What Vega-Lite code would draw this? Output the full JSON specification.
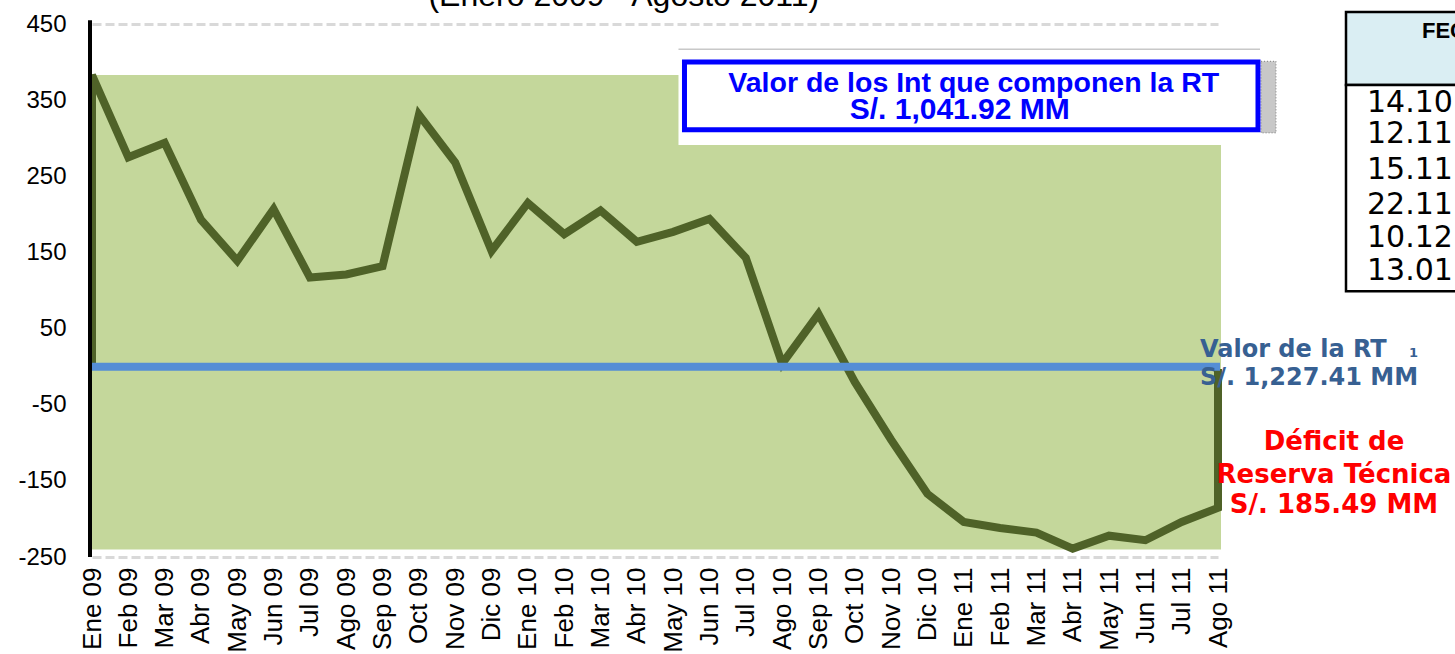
{
  "$schema": "https://vega.github.io/schema/vega-lite/v6.json",
  "autosize": {"type": "none"},
  "width": 1126,
  "height": 533,
  "padding": {"left": 92, "top": 24, "right": 237, "bottom": 97},
  "background": "#ffffff",
  "config": {"view": {"stroke": null}, "font": "Liberation Sans"},
  "encoding": {
    "x": {
      "field": "mes", "type": "ordinal",
      "scale": {"type": "point", "padding": 0, "domain": ["Ene 09","Feb 09","Mar 09","Abr 09","May 09","Jun 09","Jul 09","Ago 09","Sep 09","Oct 09","Nov 09","Dic 09","Ene 10","Feb 10","Mar 10","Abr 10","May 10","Jun 10","Jul 10","Ago 10","Sep 10","Oct 10","Nov 10","Dic 10","Ene 11","Feb 11","Mar 11","Abr 11","May 11","Jun 11","Jul 11","Ago 11"]},
      "axis": {"title": null, "domain": false, "ticks": false, "grid": false, "labelAngle": -90, "labelPadding": 10, "labelFontSize": 26, "labelColor": "#000000", "labelFont": "Liberation Sans"}
    },
    "y": {
      "field": "valor", "type": "quantitative",
      "scale": {"domain": [-250, 450], "nice": false, "zero": false},
      "axis": {"title": null, "values": [-250,-150,-50,50,150,250,350,450], "labelExpr": "datum.value < 0 ? '-' + abs(datum.value) : '' + datum.value", "domain": false, "ticks": false, "grid": true, "gridColor": "#D9D9D9", "gridDash": [9,4], "gridWidth": 3, "labelPadding": 26, "labelFontSize": 24, "labelColor": "#000000", "labelFont": "Liberation Sans"}
    }
  },
  "layer": [
    {
      "data": {"values": [{"mes": "Ene 09", "hasta": "Ago 11", "valor": 383, "valor2": -240}]},
      "mark": {"type": "rect", "color": "#C4D79B", "x2Offset": 3},
      "encoding": {"x2": {"field": "hasta"}, "y2": {"field": "valor2"}}
    },
    {
      "data": {"values": [
        {"i": 0, "mes": "Ene 09", "valor": 0},
        {"i": 1, "mes": "Ene 09", "valor": 383},
        {"i": 2, "mes": "Feb 09", "valor": 275},
        {"i": 3, "mes": "Mar 09", "valor": 294},
        {"i": 4, "mes": "Abr 09", "valor": 193},
        {"i": 5, "mes": "May 09", "valor": 139},
        {"i": 6, "mes": "Jun 09", "valor": 207},
        {"i": 7, "mes": "Jul 09", "valor": 117},
        {"i": 8, "mes": "Ago 09", "valor": 121},
        {"i": 9, "mes": "Sep 09", "valor": 132},
        {"i": 10, "mes": "Oct 09", "valor": 331},
        {"i": 11, "mes": "Nov 09", "valor": 268},
        {"i": 12, "mes": "Dic 09", "valor": 152},
        {"i": 13, "mes": "Ene 10", "valor": 215},
        {"i": 14, "mes": "Feb 10", "valor": 174},
        {"i": 15, "mes": "Mar 10", "valor": 205},
        {"i": 16, "mes": "Abr 10", "valor": 164},
        {"i": 17, "mes": "May 10", "valor": 177},
        {"i": 18, "mes": "Jun 10", "valor": 194},
        {"i": 19, "mes": "Jul 10", "valor": 143},
        {"i": 20, "mes": "Ago 10", "valor": 4},
        {"i": 21, "mes": "Sep 10", "valor": 69},
        {"i": 22, "mes": "Oct 10", "valor": -20},
        {"i": 23, "mes": "Nov 10", "valor": -96},
        {"i": 24, "mes": "Dic 10", "valor": -167},
        {"i": 25, "mes": "Ene 11", "valor": -204},
        {"i": 26, "mes": "Feb 11", "valor": -212},
        {"i": 27, "mes": "Mar 11", "valor": -218},
        {"i": 28, "mes": "Abr 11", "valor": -239},
        {"i": 29, "mes": "May 11", "valor": -222},
        {"i": 30, "mes": "Jun 11", "valor": -228},
        {"i": 31, "mes": "Jul 11", "valor": -204},
        {"i": 32, "mes": "Ago 11", "valor": -185.49},
        {"i": 33, "mes": "Ago 11", "valor": -3}
      ]},
      "mark": {"type": "line", "color": "#4F6228", "strokeWidth": 8},
      "encoding": {"order": {"field": "i", "type": "quantitative"}}
    },
    {
      "data": {"values": [{"mes": "Ene 09", "hasta": "Ago 11", "valor": 0}]},
      "mark": {"type": "rule", "color": "#558ED5", "strokeWidth": 8, "x2Offset": 2},
      "encoding": {"x2": {"field": "hasta"}}
    },
    {
      "data": {"values": [{"mes": "Ene 09", "valor": 455, "valor2": -250}]},
      "mark": {"type": "rule", "color": "#000000", "strokeWidth": 4, "xOffset": -2},
      "encoding": {"y2": {"field": "valor2"}}
    },
    {
      "data": {"values": [{"mes": "Abr 10", "etiqueta": "(Enero 2009 - Agosto 2011)", "valor": 474}]},
      "mark": {"type": "text", "fontSize": 32, "color": "#000000", "align": "center", "baseline": "alphabetic", "dx": -13},
      "encoding": {"text": {"field": "etiqueta"}}
    },
    {
      "data": {"values": [{"mes": "Jun 10", "hasta": "Ago 11", "valor": 418, "valor2": 291}]},
      "mark": {"type": "rect", "fill": "#ffffff", "xOffset": -31, "x2Offset": 62},
      "encoding": {"x2": {"field": "hasta"}, "y2": {"field": "valor2"}}
    },
    {
      "data": {"values": [{"mes": "Jun 10", "hasta": "Ago 11", "valor": 417}]},
      "mark": {"type": "rule", "color": "#C8C8C8", "strokeWidth": 1.5, "xOffset": -31, "x2Offset": 42},
      "encoding": {"x2": {"field": "hasta"}}
    },
    {
      "data": {"values": [{"mes": "Ago 11", "hasta": "Ago 11", "valor": 401, "valor2": 307}]},
      "mark": {"type": "rect", "fill": "#C8C8C8", "stroke": "#7F7F7F", "strokeWidth": 1, "strokeDash": [1, 2], "xOffset": 43, "x2Offset": 58},
      "encoding": {"x2": {"field": "hasta"}, "y2": {"field": "valor2"}}
    },
    {
      "data": {"values": [{"mes": "Jun 10", "hasta": "Ago 11", "valor": 400, "valor2": 311}]},
      "mark": {"type": "rect", "fill": "#ffffff", "stroke": "#0000FF", "strokeWidth": 5, "xOffset": -25, "x2Offset": 40},
      "encoding": {"x2": {"field": "hasta"}, "y2": {"field": "valor2"}}
    },
    {
      "data": {"values": [{"mes": "Ene 11", "etiqueta": "Valor de los Int que componen la RT", "valor": 372.5}]},
      "mark": {"type": "text", "fontSize": 28.5, "fontWeight": "bold", "color": "#0000FF", "align": "center", "baseline": "middle", "dx": 10},
      "encoding": {"text": {"field": "etiqueta"}}
    },
    {
      "data": {"values": [{"mes": "Ene 11", "etiqueta": "S/. 1,041.92 MM", "valor": 337}]},
      "mark": {"type": "text", "fontSize": 30, "fontWeight": "bold", "color": "#0000FF", "align": "center", "baseline": "middle", "dx": -4},
      "encoding": {"text": {"field": "etiqueta"}}
    },
    {
      "data": {"values": [
        {"mes": "Ago 11", "etiqueta": "Valor de la RT", "valor": 12.4},
        {"mes": "Ago 11", "etiqueta": "S/. 1,227.41 MM", "valor": -24.4}
      ]},
      "mark": {"type": "text", "font": "DejaVu Sans", "fontSize": 24, "fontWeight": "bold", "color": "#376092", "align": "left", "baseline": "alphabetic", "dx": -18},
      "encoding": {"text": {"field": "etiqueta"}}
    },
    {
      "data": {"values": [{"mes": "Ago 11", "etiqueta": "1", "valor": 12.4}]},
      "mark": {"type": "text", "font": "DejaVu Sans", "fontSize": 13, "fontWeight": "bold", "color": "#376092", "align": "left", "baseline": "alphabetic", "dx": 191},
      "encoding": {"text": {"field": "etiqueta"}}
    },
    {
      "data": {"values": [
        {"mes": "Ago 11", "etiqueta": "Déficit de", "valor": -109.8},
        {"mes": "Ago 11", "etiqueta": "Reserva Técnica", "valor": -153},
        {"mes": "Ago 11", "etiqueta": "S/.  185.49 MM", "valor": -192.6}
      ]},
      "mark": {"type": "text", "font": "DejaVu Sans", "fontSize": 26, "fontWeight": "bold", "color": "#FF0000", "align": "center", "baseline": "alphabetic", "dx": 116},
      "encoding": {"text": {"field": "etiqueta"}}
    },
    {
      "data": {"values": [{"mes": "Ago 11", "hasta": "Ago 11", "valor": 465.8, "valor2": 369.8}]},
      "mark": {"type": "rect", "fill": "#DAEEF3", "stroke": "#000000", "strokeWidth": 2.5, "xOffset": 128, "x2Offset": 400},
      "encoding": {"x2": {"field": "hasta"}, "y2": {"field": "valor2"}}
    },
    {
      "data": {"values": [{"mes": "Ago 11", "hasta": "Ago 11", "valor": 369.8, "valor2": 99.1}]},
      "mark": {"type": "rect", "fill": "#ffffff", "stroke": "#000000", "strokeWidth": 2.5, "xOffset": 128, "x2Offset": 400},
      "encoding": {"x2": {"field": "hasta"}, "y2": {"field": "valor2"}}
    },
    {
      "data": {"values": [{"mes": "Ago 11", "etiqueta": "FECHA", "valor": 441}]},
      "mark": {"type": "text", "fontSize": 22, "fontWeight": "bold", "color": "#000000", "align": "left", "baseline": "middle", "dx": 204},
      "encoding": {"text": {"field": "etiqueta"}}
    },
    {
      "data": {"values": [
        {"mes": "Ago 11", "etiqueta": "14.10.10", "valor": 346.2},
        {"mes": "Ago 11", "etiqueta": "12.11.10", "valor": 305.5},
        {"mes": "Ago 11", "etiqueta": "15.11.10", "valor": 258.1},
        {"mes": "Ago 11", "etiqueta": "22.11.10", "valor": 212.2},
        {"mes": "Ago 11", "etiqueta": "10.12.10", "valor": 168.8},
        {"mes": "Ago 11", "etiqueta": "13.01.11", "valor": 125.4}
      ]},
      "mark": {"type": "text", "font": "DejaVu Sans", "fontSize": 30, "color": "#000000", "align": "left", "baseline": "middle", "dx": 149},
      "encoding": {"text": {"field": "etiqueta"}}
    }
  ]
}
